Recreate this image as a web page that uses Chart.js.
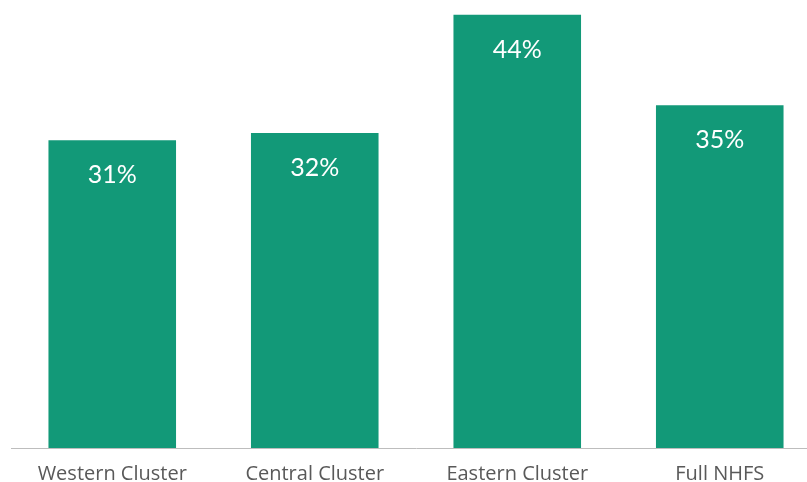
<!DOCTYPE html>
<html>
<head>
<meta charset="utf-8">
<script src="https://cdn.jsdelivr.net/npm/chart.js@4"></script>
<style>
html,body{margin:0;padding:0;background:#fff;overflow:hidden;}
#wrap{position:relative;width:822px;height:482px;}
</style>
</head>
<body>
<div id="wrap"><canvas id="c" width="822" height="482"></canvas></div>
<script>
const categories = ["Western Cluster", "Central Cluster", "Eastern Cluster", "Full NHFS"];
const values = [31.25, 32, 44, 34.8];
const valueLabels = ["31%", "32%", "44%", "35%"];

const barLabels = {
  id: 'barLabels',
  afterDatasetsDraw(chart) {
    const ctx = chart.ctx;
    const meta = chart.getDatasetMeta(0);
    ctx.save();
    ctx.fillStyle = '#ffffff';
    ctx.font = '25px Lato';
    ctx.textAlign = 'center';
    ctx.textBaseline = 'middle';
    meta.data.forEach((el, i) => {
      ctx.fillText(valueLabels[i], el.x, el.y + 35);
    });
    ctx.restore();
  }
};

new Chart(document.getElementById('c'), {
  type: 'bar',
  data: {
    labels: categories,
    datasets: [{
      data: values,
      backgroundColor: '#129978',
      borderWidth: 0,
      categoryPercentage: 1,
      barPercentage: 0.63
    }]
  },
  options: {
    responsive: false,
    animation: false,
    layout: { padding: { left: 11, right: 1, top: 0, bottom: 0 } },
    plugins: { legend: { display: false }, tooltip: { enabled: false } },
    scales: {
      x: {
        grid: { display: false, drawTicks: false },
        border: { display: true, color: '#bdbdbd', width: 1 },
        ticks: { color: '#595959', font: { family: 'Open Sans', size: 20 }, padding: 14, maxRotation: 0 },
        afterFit: s => { s.height = 34; }
      },
      y: {
        display: false,
        min: 0,
        max: 45.5
      }
    }
  },
  plugins: [barLabels]
});
</script>
</body>
</html>
